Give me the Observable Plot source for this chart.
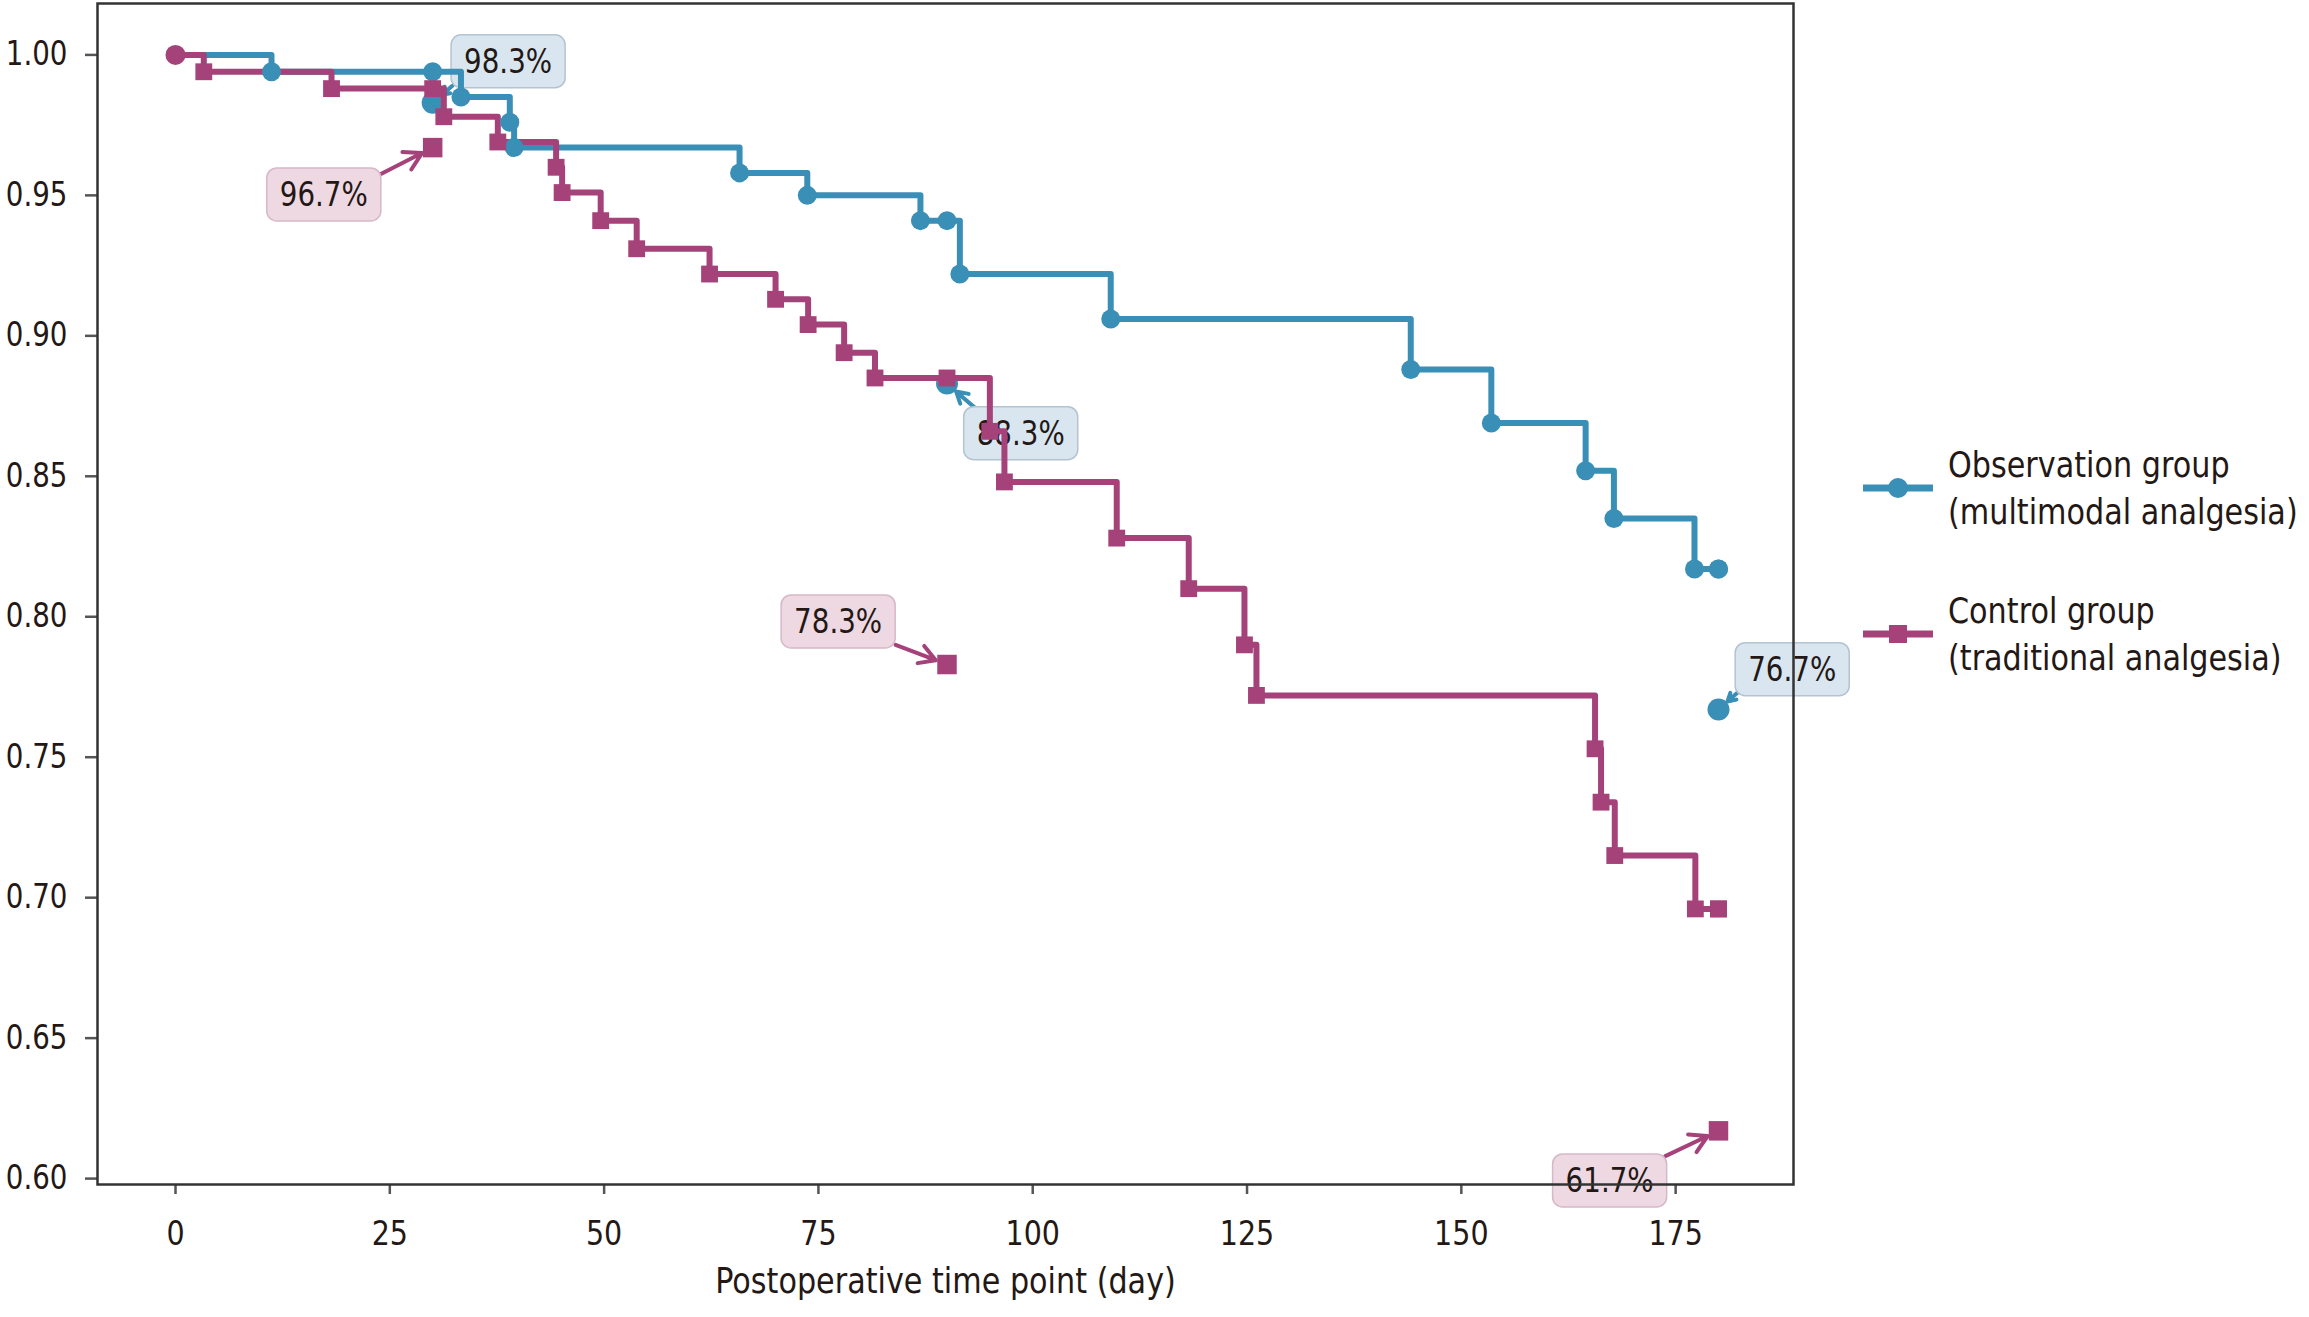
<!DOCTYPE html>
<html>
<head>
<meta charset="utf-8">
<script src="https://cdn.jsdelivr.net/npm/d3@7"></script>
<script src="https://cdn.jsdelivr.net/npm/@observablehq/plot@0.6"></script>
<style>
  html, body { margin: 0; padding: 0; background: #fff; }
  #chart { position: relative; width: 2309px; height: 1317px; overflow: hidden; }
  #chart > svg { position: absolute; left: 0; top: 0; }
  #legend { position: absolute; left: 1863px; top: 441px;
    font-family: "DejaVu Sans", sans-serif;
    font-size: 36px; line-height: 47px; color: #231815; }
  .item { display: flex; align-items: center; margin-bottom: 52px; }
  .item svg { flex: none; }
  .item .lbl { margin-left: 15px; white-space: nowrap; transform: scaleX(0.84); transform-origin: left center; }
</style>
</head>
<body>
<div id="chart"><div id="legend"></div></div>
<script>
const FONT = '"DejaVu Sans", sans-serif';
const SX = 0.84; // horizontal squeeze of the lettering

// ---- data ----
const groups = ["Observation group (multimodal analgesia)", "Control group (traditional analgesia)"];
const legendLines = [["Observation group", "(multimodal analgesia)"], ["Control group", "(traditional analgesia)"]];
const colors = ["#3a8fb7", "#a5427a"];

const xTicks = [0, 25, 50, 75, 100, 125, 150, 175];
const yTicks = [0.60, 0.65, 0.70, 0.75, 0.80, 0.85, 0.90, 0.95, 1.00];

// Observation group Kaplan-Meier steps
const obsDays = [0, 11.2, 33.3, 39.0, 39.5, 65.8, 73.7, 86.9, 91.5, 109.1, 144.1, 153.5, 164.5, 167.8, 177.2, 180];
const obsSurv = [1.000, 0.994, 0.985, 0.976, 0.967, 0.958, 0.950, 0.941, 0.922, 0.906, 0.888, 0.869, 0.852, 0.835, 0.817, 0.817];

// Control group Kaplan-Meier steps
const ctlDays = [0, 3.3, 18.2, 31.3, 37.6, 44.4, 45.1, 49.6, 53.8, 62.3, 70.0, 73.8, 78.0, 81.6, 95.0, 96.7, 109.8, 118.2, 124.7, 126.1, 165.6, 166.3, 167.9, 177.3, 180];
const ctlSurv = [1.000, 0.994, 0.988, 0.978, 0.969, 0.960, 0.951, 0.941, 0.931, 0.922, 0.913, 0.904, 0.894, 0.885, 0.866, 0.848, 0.828, 0.810, 0.790, 0.772, 0.753, 0.734, 0.715, 0.696, 0.696];

// time-point markers on the curves
const tpDays = [30, 90, 180];
const obsTP = [0.994, 0.941, 0.817];
const ctlTP = [0.988, 0.885, 0.696];

// annotations
const annotGroup = [0, 1, 0, 1, 0, 1];
const annotDays = [30, 30, 90, 90, 180, 180];
const annotValues = [0.983, 0.967, 0.883, 0.783, 0.767, 0.617];
const annotLabels = ["98.3%", "96.7%", "88.3%", "78.3%", "76.7%", "61.7%"];
const labelDays = [38.8, 17.3, 98.6, 77.3, 188.6, 167.3];
const labelValues = [0.9974, 0.950, 0.865, 0.798, 0.781, 0.599];
const tailDays = [32.3, 23.9, 93.4, 84.0, 182.4, 173.8];
const tailValues = [0.989, 0.9575, 0.874, 0.790, 0.7735, 0.608];
const boxFill = ["#d9e6ef", "#eed9e3"];
const boxStroke = ["#b3c4d0", "#d6b8c7"];

// ---- tables ----
const curve = [
  ...obsDays.map((d, i) => ({group: groups[0], day: d, value: obsSurv[i]})),
  ...ctlDays.map((d, i) => ({group: groups[1], day: d, value: ctlSurv[i]}))
];
const tps = [
  ...tpDays.map((d, i) => ({group: groups[0], day: d, value: obsTP[i]})),
  ...tpDays.map((d, i) => ({group: groups[1], day: d, value: ctlTP[i]}))
];
const annots = annotDays.map((d, i) => ({
  group: groups[annotGroup[i]], day: d, value: annotValues[i],
  label: annotLabels[i], lx: labelDays[i], ly: labelValues[i], tx: tailDays[i], ty: tailValues[i]
}));
const start = [{group: groups[1], day: 0, value: 1}];

const svg = Plot.plot({
  width: 2309, height: 1317,
  marginLeft: 97, marginRight: 516, marginTop: 3, marginBottom: 133,
  style: {fontFamily: FONT, fontSize: "36px", color: "#231815", background: "white"},
  x: {domain: [-9.1, 188.75], ticks: xTicks, tickFormat: d => String(d), tickSize: 10, tickPadding: 26,
      label: "Postoperative time point (day)", labelAnchor: "center", labelOffset: 108, labelArrow: "none"},
  y: {domain: [0.5979, 1.0183], ticks: yTicks, tickFormat: d3.format(".2f"), tickSize: 12, tickPadding: 18, label: null},
  color: {domain: groups, range: colors},
  symbol: {domain: groups, range: ["circle", "square"]},
  marks: [
    Plot.arrow(annots, {x1: "tx", y1: "ty", x2: "day", y2: "value", stroke: "group", strokeWidth: 4, headLength: 16, insetEnd: 12}),
    Plot.dot(annots, {x: "day", y: "value", fill: "group", symbol: "group", r: 11}),
    Plot.text(annots, {x: "lx", y: "ly", text: "label", fontSize: 33, fill: "#231815"}),
    Plot.frame({stroke: "#333", strokeWidth: 2.5}),
    Plot.line(curve, {x: "day", y: "value", z: "group", stroke: "group", curve: "step-after", strokeWidth: 6}),
    Plot.dot(curve.filter(d => d.day > 0), {x: "day", y: "value", fill: "group", symbol: "group", r: 9.5}),
    Plot.dot(tps, {x: "day", y: "value", fill: "group", symbol: "group", r: 9.5}),
    Plot.dot(start, {x: "day", y: "value", fill: "group", r: 10})
  ]
});

const chart = document.getElementById("chart");
chart.insertBefore(svg, chart.firstChild);

// y tick labels a bit smaller than the rest
d3.select(svg).selectAll("g[aria-label='y-axis tick label'] text").attr("font-size", 33);
d3.select(svg).selectAll("g[aria-label='x-axis tick label'] text").attr("font-size", 34);
// ticks in grey
d3.select(svg).selectAll("g[aria-label$='tick'] path").attr("stroke", "#555").attr("stroke-width", 2.5);

// squeeze lettering horizontally and put rounded boxes behind annotation labels
d3.select(svg).selectAll("text").each(function () {
  const t0 = this.getAttribute("transform") || "";
  const idx = annotLabels.indexOf(this.textContent);
  if (idx >= 0) {
    const b = this.getBBox();
    const gi = annotGroup[idx];
    const w = b.width * SX;
    d3.select(this.parentNode).insert("rect", () => this)
      .attr("x", b.x * SX - 13).attr("y", b.y - 7)
      .attr("width", w + 26).attr("height", b.height + 14)
      .attr("rx", 10).attr("ry", 10)
      .attr("transform", t0 || null)
      .attr("fill", boxFill[gi]).attr("stroke", boxStroke[gi]).attr("stroke-width", 1.5);
  }
  this.setAttribute("transform", (t0 + ` scale(${SX},1)`).trim());
});

// legend
const legend = d3.select("#legend");
groups.forEach((g, i) => {
  const item = legend.append("div").attr("class", "item");
  const s = item.append("svg").attr("width", 70).attr("height", 30);
  s.append("line").attr("x1", 0).attr("x2", 70).attr("y1", 15).attr("y2", 15)
    .attr("stroke", colors[i]).attr("stroke-width", 7);
  if (i === 0) s.append("circle").attr("cx", 35).attr("cy", 15).attr("r", 10).attr("fill", colors[i]);
  else s.append("rect").attr("x", 26).attr("y", 6).attr("width", 18).attr("height", 18).attr("fill", colors[i]);
  const lbl = item.append("div").attr("class", "lbl");
  legendLines[i].forEach(t => lbl.append("div").text(t));
});
</script>
</body>
</html>
